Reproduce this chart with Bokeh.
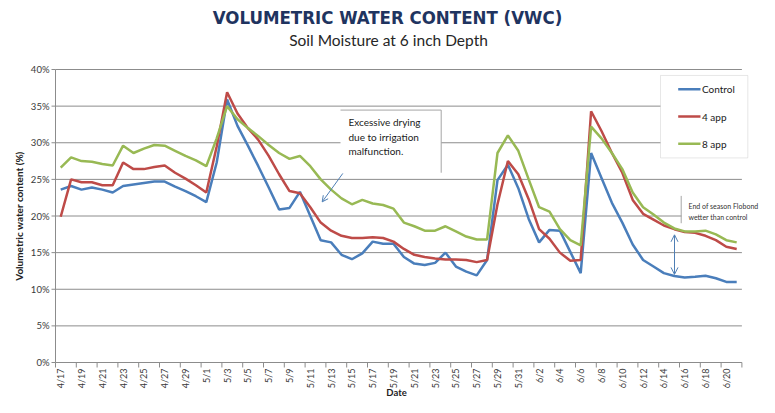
import math
import pandas as pd
from bokeh.plotting import figure
from bokeh.models import Range1d, Label, BoxAnnotation, Arrow, OpenHead, ColumnDataSource
from bokeh.core.properties import value
from bokeh.embed import file_html
from bokeh.resources import INLINE

# ---------------- data ----------------
dates = [d.strftime("%-m/%-d") for d in pd.date_range("2013-04-17", "2013-06-21", freq="D")]

control = [23.6, 24.1, 23.6, 23.9, 23.6, 23.2, 24.1, 24.3, 24.5, 24.7, 24.7, 24.0, 23.4, 22.7,
           21.9, 27.3, 35.9, 32.3, 29.6, 26.8, 23.9, 20.9, 21.1, 23.3, 20.0, 16.7, 16.4, 14.7,
           14.1, 14.9, 16.5, 16.2, 16.2, 14.4, 13.5, 13.3, 13.6, 15.0, 13.1, 12.4, 11.9, 14.0,
           24.9, 27.0, 23.8, 19.6, 16.4, 18.1, 18.0, 15.1, 12.2, 28.6, 25.2, 21.8, 19.1, 16.1,
           14.0, 13.1, 12.2, 11.8, 11.6, 11.7, 11.85, 11.5, 11.0, 11.0]

app4 = [19.9, 25.0, 24.6, 24.6, 24.2, 24.2, 27.3, 26.4, 26.4, 26.7, 26.9, 25.9, 25.1, 24.2,
        23.2, 29.5, 36.9, 34.0, 32.0, 30.4, 28.2, 25.7, 23.4, 23.1, 21.2, 19.1, 18.0, 17.3,
        17.0, 17.0, 17.1, 17.0, 16.5, 15.5, 14.7, 14.4, 14.2, 14.05, 14.05, 14.0, 13.7, 14.0,
        21.6, 27.5, 25.7, 22.3, 18.2, 16.9, 15.0, 13.9, 14.0, 34.3, 31.6, 28.6, 25.9, 22.2,
        20.3, 19.5, 18.7, 18.2, 17.8, 17.7, 17.3, 16.7, 15.8, 15.5]

app8 = [26.6, 28.0, 27.5, 27.4, 27.1, 26.9, 29.6, 28.6, 29.2, 29.7, 29.6, 28.9, 28.2, 27.6,
        26.8, 30.6, 35.0, 33.2, 32.0, 30.9, 29.7, 28.6, 27.8, 28.2, 26.8, 25.0, 23.6, 22.4,
        21.6, 22.2, 21.7, 21.5, 21.0, 19.1, 18.6, 18.0, 18.0, 18.6, 17.9, 17.2, 16.8, 16.8,
        28.6, 31.0, 28.9, 25.0, 21.2, 20.6, 18.2, 16.7, 16.0, 32.2, 30.6, 28.6, 26.4, 23.2,
        21.2, 20.2, 19.1, 18.3, 17.9, 17.9, 18.0, 17.5, 16.7, 16.4]

series_names = ["Control", "4 app", "8 app"]
y_ticks = [0, 5, 10, 15, 20, 25, 30, 35, 40]

# ---------------- style ----------------
BLUE, RED, GREEN = "#4a7ebb", "#be4b48", "#98b954"
COLORS = [BLUE, RED, GREEN]
GRID = "#8c8c8c"
TXT = "#3a3a3a"
BODY_FONT = "Lato"
TITLE_FONT = "'DejaVu Sans Condensed', 'Liberation Sans Narrow', Roboto"

n = len(dates)
day = list(range(n))
src = ColumnDataSource(dict(day=day, control=control, app4=app4, app8=app8))

# ---------------- geometry (window pixels) ----------------
W, H = 759, 397
OFF_X, OFF_Y = 0, 0          # where the figure lands in the screenshot
AX_X = 55                    # y axis position
PX_DAY = 10.4
Y0, Y40 = 362, 69            # 0% and 40% lines
S = (Y0 - Y40) / 40.0

x_start = -0.5 - (AX_X - OFF_X) / PX_DAY
y_top = (Y0 - OFF_Y) / S

p = figure(width=W, height=H, output_backend="svg", toolbar_location=None,
           x_range=Range1d(x_start, x_start + W / PX_DAY),
           y_range=Range1d(y_top - H / S, y_top),
           x_axis_location=None, y_axis_location=None, min_border=0)
p.outline_line_color = None
p.xgrid.visible = False
p.ygrid.visible = False
p.background_fill_color = "white"
p.border_fill_color = "white"


def wx(px):  # window x -> data x
    return -0.5 + (px - AX_X) / PX_DAY


def wy(py):  # window y -> data y
    return (Y0 - py) / S


def ry(py):  # reference-chart y (annotation anchored to data) -> data y
    return (365 - py) / 7.4


x_lo, x_hi = -0.5, n - 0.5
# grid
p.segment(x0=x_lo, x1=x_hi, y0=y_ticks, y1=y_ticks, line_color=GRID, line_width=1)
# y axis line + ticks + labels
p.segment(x0=[x_lo], x1=[x_lo], y0=[0], y1=[40], line_color=GRID, line_width=1)
p.segment(x0=wx(AX_X - 4), x1=x_lo, y0=y_ticks, y1=y_ticks, line_color=GRID, line_width=1)
p.text(x=wx(AX_X - 6), y=y_ticks, text=[f"{t}%" for t in y_ticks], text_align="right",
       text_baseline="middle", text_font=value(BODY_FONT), text_font_size=value("9.5px"),
       text_color=TXT)
# x axis line + ticks + labels
bounds = [i - 0.5 for i in range(0, n + 1, 2)]
p.segment(x0=bounds, x1=bounds, y0=0, y1=wy(Y0 + 5), line_color=GRID, line_width=1)
label_pos = day[::2]
p.text(x=label_pos, y=wy(Y0 + 6), text=[dates[i] for i in label_pos], angle=math.pi / 2,
       text_align="right", text_baseline="middle", text_font=value(BODY_FONT),
       text_font_size=value("9px"), text_color=TXT)

# lines
for col, c in zip(["control", "app4", "app8"], COLORS):
    p.line("day", col, source=src, line_color=c, line_width=2.5)

# titles and axis titles
p.add_layout(Label(x=wx(387), y=wy(17), text="VOLUMETRIC WATER CONTENT (VWC)",
                   text_align="center", text_baseline="middle", text_font=TITLE_FONT,
                   text_font_size="18.5px", text_font_style="bold", text_color="#1f3460"))
p.add_layout(Label(x=wx(388), y=wy(39), text="Soil Moisture at 6 inch Depth",
                   text_align="center", text_baseline="middle", text_font=BODY_FONT,
                   text_font_size="15.5px", text_color="#262626"))
p.add_layout(Label(x=wx(396), y=wy(392), text="Date", text_align="center",
                   text_baseline="middle", text_font=BODY_FONT, text_font_size="9.5px",
                   text_font_style="bold", text_color="#222222"))
p.add_layout(Label(x=wx(18), y=20, text="Volumetric water content (%)", angle=math.pi / 2,
                   text_align="center", text_baseline="middle", text_font=BODY_FONT,
                   text_font_size="10px", text_font_style="bold", text_color="#222222"))

# annotation box 1
BORDER = "#a6a6a6"
ANN = "#4f7fb5"
p.add_layout(BoxAnnotation(left=wx(340), right=wx(440.7), top=ry(110), bottom=ry(173.3),
                           fill_color="white", fill_alpha=1, line_alpha=0))
p.add_layout(Arrow(end=None, x_start=wx(340), y_start=ry(110), x_end=wx(440.7), y_end=ry(110),
                   line_color=BORDER, line_width=1))
p.add_layout(Arrow(end=None, x_start=wx(440.7), y_start=ry(110), x_end=wx(440.7), y_end=ry(173.3),
                   line_color=BORDER, line_width=1))
for txt, yy in [("Excessive drying", 122), ("due to irrigation", 136.7), ("malfunction.", 151)]:
    p.add_layout(Label(x=wx(348), y=ry(yy), text=txt, text_baseline="middle",
                       text_font=BODY_FONT, text_font_size="10px", text_color="#1a1a1a"))
p.add_layout(Arrow(end=OpenHead(size=6, line_color=ANN, line_width=1),
                   x_start=wx(342.3), y_start=ry(174), x_end=wx(321.7), y_end=ry(202.7),
                   line_color=ANN, line_width=1))

# annotation box 2
p.add_layout(BoxAnnotation(left=wx(681), right=wx(770), top=ry(197), bottom=ry(221),
                           fill_color="white", fill_alpha=1, line_alpha=0))
p.add_layout(Label(x=wx(688), y=ry(206.7), text="End of season Flobond", text_baseline="middle",
                   text_font=BODY_FONT, text_font_size="7px", text_color="#333333"))
p.add_layout(Label(x=wx(688), y=ry(218), text="wetter than control", text_baseline="middle",
                   text_font=BODY_FONT, text_font_size="7px", text_color="#333333"))
p.add_layout(BoxAnnotation(left=wx(682), right=wx(770), top=ry(221), bottom=ry(227),
                           fill_color="white", fill_alpha=1, line_alpha=0))
p.add_layout(Arrow(end=None, x_start=wx(680.7), y_start=ry(196.7), x_end=wx(680.7), y_end=ry(224.3),
                   line_color=BORDER, line_width=1))
p.add_layout(Arrow(start=OpenHead(size=7, line_color=ANN, line_width=1),
                   end=OpenHead(size=7, line_color=ANN, line_width=1),
                   x_start=wx(674), y_start=ry(236), x_end=wx(674), y_end=ry(276),
                   line_color=ANN, line_width=1))

# legend (box, sample lines, labels)
p.add_layout(BoxAnnotation(left=wx(660), right=wx(747.3), top=ry(75), bottom=ry(158.3),
                           fill_color="white", fill_alpha=1, line_color="#b0b0b0", line_width=1))
for name, c, yy in zip(series_names, COLORS, [89, 116.5, 144]):
    p.add_layout(Arrow(end=None, x_start=wx(677.7), y_start=ry(yy), x_end=wx(700), y_end=ry(yy),
                       line_color=c, line_width=2.5))
    p.add_layout(Label(x=wx(701.5), y=ry(yy), text=name, text_baseline="middle",
                       text_font=BODY_FONT, text_font_size="10px", text_color="#1a1a1a"))

open("out.html", "w").write(file_html(p, INLINE))
